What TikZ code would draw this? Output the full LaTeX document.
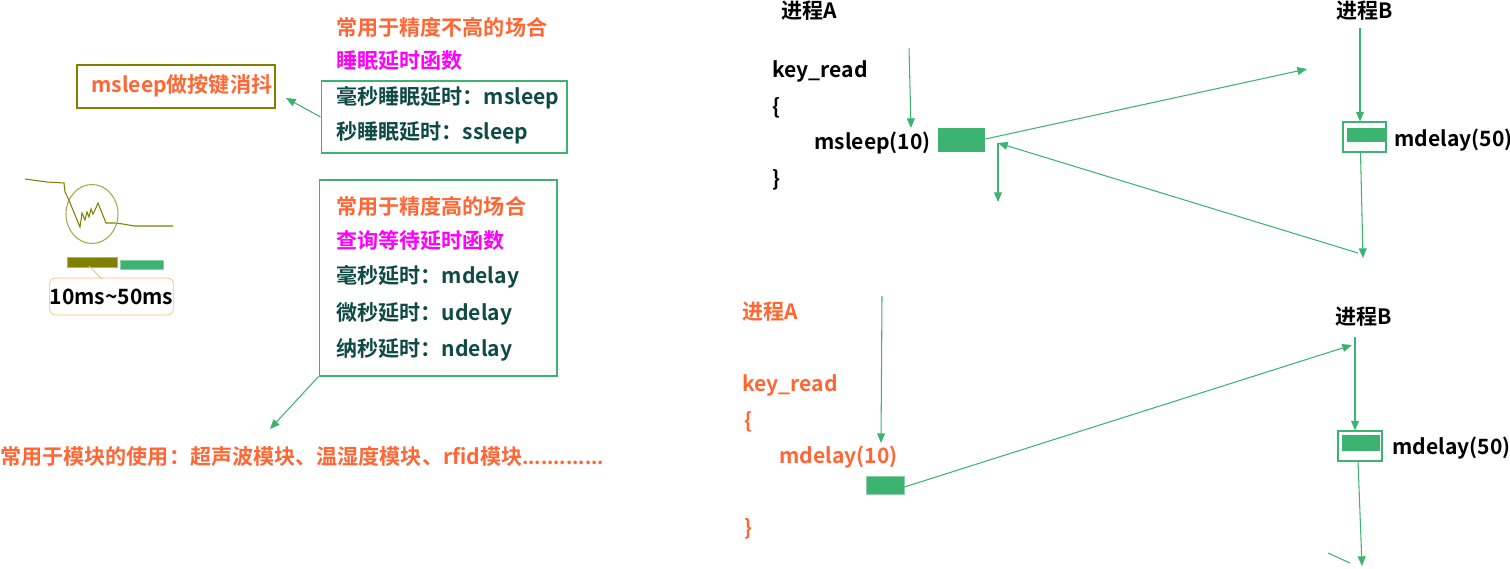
\documentclass[tikz,border=0pt]{standalone}
\usepackage{fontspec}
\setmainfont{Noto Sans CJK SC}[BoldFont=* Bold]
\usepackage{xcolor}
\usetikzlibrary{arrows.meta,positioning,calc}

\definecolor{hlorange}{HTML}{FF6633}
\definecolor{hlpink}{HTML}{FF00FF}
\definecolor{darkteal}{HTML}{0F4A45}
\definecolor{seagreen}{HTML}{3CB371}
\definecolor{mkolive}{HTML}{808000}
\definecolor{paleorange}{HTML}{FFB870}

\begin{document}
\begin{tikzpicture}[x=0.02cm,y=-0.02cm,
    txt/.style={anchor=west,inner sep=0pt,text height=0.88em,text depth=0.12em,font=\fontsize{12}{14}\selectfont\bfseries},
    arr/.style={draw=seagreen,line width=0.6pt,-{Triangle[length=5.5pt,width=4.5pt]}},
    gbox/.style={rectangle,draw=seagreen,line width=0.6pt},
    gbar/.style={rectangle,fill=seagreen,inner sep=0pt}]
    \useasboundingbox (0,0) rectangle (1510,568);

    % Sleep functions
    \node[txt,hlorange] (lowprec) at (336,29) {常用于精度不高的场合};
    \node[txt,hlpink] (sleepfn) at (336,62) {睡眠延时函数};
    \node[gbox,minimum width=4.92cm,minimum height=1.44cm] (sleepbox) at (444,117) {};
    \node[txt,darkteal] (msleep) at (336,98) {毫秒睡眠延时：msleep};
    \node[txt,darkteal] (ssleep) at (336,133) {秒睡眠延时：ssleep};

    % Debounce
    \node[rectangle,draw=mkolive,line width=0.6pt,minimum width=3.96cm,minimum height=0.86cm] (debounce) at (176,86.5) {};
    \node[txt,hlorange] (debtext) at (91,86) {msleep做按键消抖};
    \coordinate (debtip) at (286,98);
    \draw[arr] (sleepbox.west) -- (debtip);

    % Key bounce signal
    \draw[mkolive,line width=0.6pt] (25,179) -- (47,182) -- (64,183) -- (65,192) -- (68,198) -- (80,227)
        -- (82,213) -- (85,220) -- (87,212) -- (89,217) -- (91,209) -- (93,214) -- (95,210) -- (98,203)
        -- (106,223) -- (115,223) -- (123,224) -- (134,226) -- (173,226);
    \draw[mkolive!70,line width=0.6pt] (92,214) ellipse [x radius=26,y radius=29.5];
    \node[rectangle,fill=mkolive,draw=mkolive!60,inner sep=0pt,minimum width=1cm,minimum height=0.2cm] (olbar) at (92,262) {};
    \node[gbar,draw=seagreen!60,minimum width=0.86cm,minimum height=0.18cm] (grbar) at (141.5,264.5) {};
    \node[rectangle,draw=paleorange,rounded corners=0.12cm,minimum width=2.3cm,minimum height=0.74cm,inner sep=0pt,
          font=\fontsize{12}{14}\selectfont\bfseries] (range) at (111.5,296.5) {10ms\textasciitilde 50ms};
    \coordinate (rangetip) at (102,279);
    \draw[paleorange,line width=0.6pt] (89,266) -- (rangetip);

    % Delay functions
    \node[gbox,minimum width=4.76cm,minimum height=3.92cm] (delaybox) at (438,278) {};
    \node[txt,hlorange] (highprec) at (336,208) {常用于精度高的场合};
    \node[txt,hlpink] (pollfn) at (336,242) {查询等待延时函数};
    \node[txt,darkteal] (mdelay) at (336,277) {毫秒延时：mdelay};
    \node[txt,darkteal] (udelay) at (336,314) {微秒延时：udelay};
    \node[txt,darkteal] (ndelay) at (336,350) {纳秒延时：ndelay};
    \node[txt,hlorange] (modules) at (0,458) {常用于模块的使用：超声波模块、温湿度模块、rfid模块{\fontsize{11}{14}\selectfont.............}};
    \coordinate (modtip) at (270,429);
    \draw[arr] (delaybox.south west) -- (modtip);

    % Top: process A with msleep
    \node[txt] (procA) at (781,12) {进程A};
    \node[txt] (keyA) at (772,71) {key\_read};
    \node[txt] (openA) at (772,108) {\{};
    \node[txt] (callA) at (814,143) {msleep(10)};
    \node[txt] (closeA) at (772,180) {\}};
    \node[gbar,minimum width=0.94cm,minimum height=0.48cm] (slotA) at (961.5,140) {};
    \coordinate (runA) at (909,48);
    \coordinate (runAtip) at (911,128);
    \draw[arr] (runA) -- (runAtip);
    \coordinate (toB) at (1307,69);
    \draw[arr] ([yshift=0.02cm]slotA.east) -- (toB);

    % Top: process B with mdelay
    \node[txt] (procB) at (1336,12) {进程B};
    \node[gbox,fill=white,minimum width=0.86cm,minimum height=0.6cm] (slotB) at (1364.5,137) {};
    \node[gbar,minimum width=0.76cm,minimum height=0.28cm] (barB) at (1366,135) {};
    \node[txt] (callB) at (1394,140) {mdelay(50)};
    \coordinate (runB) at (1360,28);
    \draw[arr] (runB) -- (runB |- slotB.north);
    \coordinate (endB) at (1363,258);
    \draw[arr] ([xshift=-0.08cm]slotB.south) -- (endB);
    \coordinate (backB) at (1358,253);
    \coordinate (backA) at (998,143);
    \coordinate (nextA) at (998,202);
    \draw[arr] (backB) -- (backA);
    \draw[arr] (backA) -- (nextA);

    % Bottom: process A with mdelay
    \node[txt,hlorange] (procA2) at (742,313) {进程A};
    \node[txt,hlorange] (keyA2) at (742,385) {key\_read};
    \node[txt,hlorange] (openA2) at (744,422) {\{};
    \node[txt,hlorange] (callA2) at (779,457) {mdelay(10)};
    \node[txt,hlorange] (closeA2) at (744,529) {\}};
    \node[gbar,draw=seagreen!60,minimum width=0.76cm,minimum height=0.36cm] (slotA2) at (885,485) {};
    \coordinate (runA2) at (882,296);
    \coordinate (runA2tip) at (881,443);
    \draw[arr] (runA2) -- (runA2tip);
    \coordinate (toB2) at (1352,345);
    \draw[arr] ([yshift=-0.04cm]slotA2.east) -- (toB2);

    % Bottom: process B with mdelay
    \node[txt] (procB2) at (1335,318) {进程B};
    \node[gbox,fill=white,minimum width=0.88cm,minimum height=0.6cm] (slotB2) at (1360,446) {};
    \node[gbar,minimum width=0.76cm,minimum height=0.32cm] (barB2) at (1361,443) {};
    \node[txt] (callB2) at (1392,448) {mdelay(50)};
    \coordinate (runB2) at (1355,337);
    \draw[arr] (runB2) -- (runB2 |- slotB2.north);
    \coordinate (endB2) at (1362,566);
    \draw[arr] ([xshift=-0.04cm]slotB2.south) -- (endB2);
    \coordinate (backB2) at (1328,553);
    \coordinate (backB2end) at (1350,563);
    \draw[seagreen,line width=0.6pt] (backB2) -- (backB2end);
\end{tikzpicture}
\end{document}
